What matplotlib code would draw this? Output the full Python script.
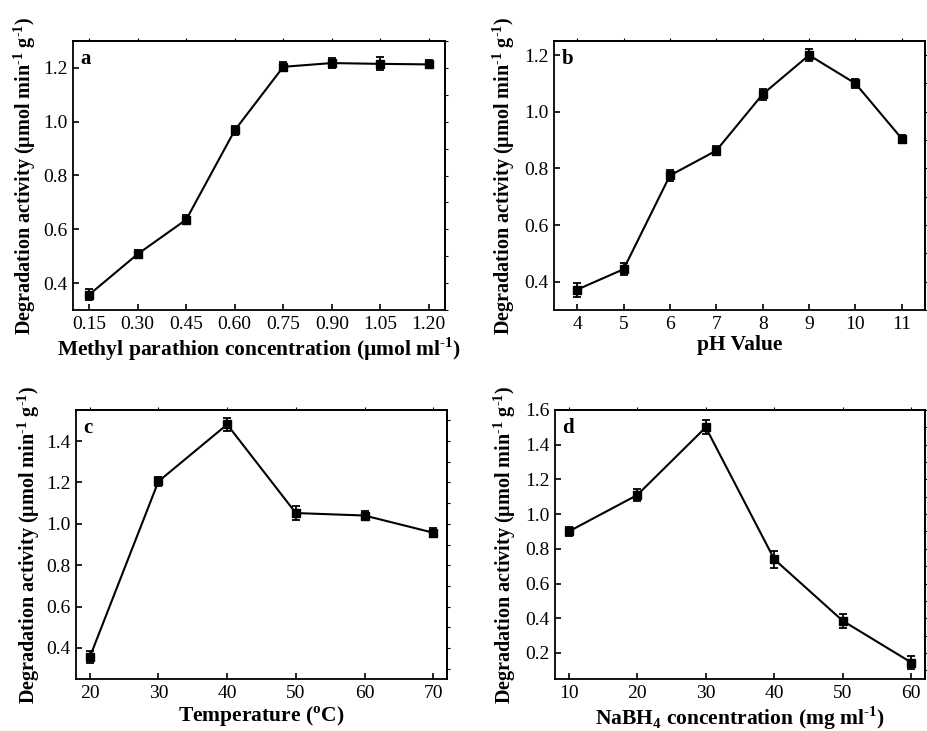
import matplotlib
matplotlib.use("Agg")
import matplotlib.pyplot as plt
import numpy as np

plt.rcParams['font.family'] = ['Liberation Serif', 'DejaVu Serif']
plt.rcParams['mathtext.fontset'] = 'custom'
plt.rcParams['mathtext.rm'] = 'Liberation Serif'
plt.rcParams['mathtext.bf'] = 'Liberation Serif:bold'

# Panel a: methyl parathion concentration
conc_a = [0.15, 0.30, 0.45, 0.60, 0.75, 0.90, 1.05, 1.20]
act_a = [0.357, 0.508, 0.636, 0.968, 1.204, 1.218, 1.215, 1.213]
err_a = [0.020, 0.015, 0.018, 0.016, 0.017, 0.020, 0.024, 0.015]
ticks_a = ['0.15', '0.30', '0.45', '0.60', '0.75', '0.90', '1.05', '1.20']

# Panel b: pH
ph_b = [4, 5, 6, 7, 8, 9, 10, 11]
act_b = [0.372, 0.444, 0.775, 0.863, 1.062, 1.200, 1.100, 0.905]
err_b = [0.025, 0.022, 0.018, 0.016, 0.020, 0.020, 0.016, 0.014]

# Panel c: temperature
temp_c = [20, 30, 40, 50, 60, 70]
act_c = [0.355, 1.205, 1.480, 1.052, 1.040, 0.957]
err_c = [0.030, 0.022, 0.030, 0.035, 0.022, 0.022]

# Panel d: NaBH4 concentration
nabh_d = [10, 20, 30, 40, 50, 60]
act_d = [0.900, 1.110, 1.500, 0.740, 0.385, 0.145]
err_d = [0.025, 0.035, 0.040, 0.050, 0.040, 0.040]

ylabel = 'Degradation activity (\u00b5mol min$^{\\mathbf{\u20101}}$ g$^{\\mathbf{\u20101}}$)'

fig = plt.figure(figsize=(9.27, 7.31), dpi=100)
W, H = 927, 731

def add_ax(l, r, t, b):
    return fig.add_axes([l / W, 1 - b / H, (r - l) / W, (b - t) / H])

axes = [add_ax(73, 445, 41, 310), add_ax(554, 925, 41, 310),
        add_ax(76, 447, 410, 679), add_ax(555, 925, 410, 679)]

specs = [
    (conc_a, act_a, err_a, (0.10, 1.25), (0.3, 1.3), conc_a, [0.4, 0.6, 0.8, 1.0, 1.2],
     'Methyl parathion concentration (\u00b5mol ml$^{\\mathbf{\u20101}}$)', 'a'),
    (ph_b, act_b, err_b, (3.5, 11.5), (0.3, 1.25), ph_b, [0.4, 0.6, 0.8, 1.0, 1.2],
     'pH Value', 'b'),
    (temp_c, act_c, err_c, (18, 72), (0.25, 1.55), temp_c, [0.4, 0.6, 0.8, 1.0, 1.2, 1.4],
     'Temperature ($^{\\mathbf{o}}$C)', 'c'),
    (nabh_d, act_d, err_d, (8, 62), (0.05, 1.6), nabh_d, [0.2, 0.4, 0.6, 0.8, 1.0, 1.2, 1.4, 1.6],
     'NaBH$_{\\mathbf{4}}$ concentration (mg ml$^{\\mathbf{\u20101}}$)', 'd'),
]

for i, (ax, (x, y, e, xl, yl, xt, yt, xlab, lab)) in enumerate(zip(axes, specs)):
    ax.errorbar(x, y, yerr=e, color='black', marker='s', markersize=6, lw=1.5,
                elinewidth=1.3, capsize=3, capthick=1.3)
    ax.set_xlim(*xl)
    ax.set_ylim(*yl)
    ax.set_xticks(xt)
    if i == 0:
        ax.set_xticklabels(ticks_a)
    ax.set_yticks(yt)
    ax.set_yticklabels(['%.1f' % v for v in yt])
    ax.tick_params(axis='both', direction='in', length=4, width=1.2, labelsize=14, pad=4)
    for s in ax.spines.values():
        s.set_linewidth(1.3)
    # right and top mirrored ticks
    sy = ax.secondary_yaxis('right')
    step = 0.1
    yt2 = np.arange(np.ceil(yl[0] / step) * step, yl[1] + 1e-9, step)
    sy.set_yticks(yt2)
    sy.set_yticklabels([])
    sy.tick_params(direction='out', length=2, width=0.8)
    sy.spines['right'].set_linewidth(1.3)
    sx = ax.secondary_xaxis('top')
    sx.set_xticks(xt)
    sx.set_xticklabels([])
    sx.tick_params(direction='out', length=2, width=0.8)
    sx.spines['top'].set_linewidth(1.3)

    ax.set_xlabel(xlab, fontsize=15.5, fontweight='bold', labelpad=2)
    ax.set_ylabel(ylabel, fontsize=14.5, fontweight='bold', labelpad=4)
    ax.text(0.02, 0.97, lab, transform=ax.transAxes, fontsize=15, fontweight='bold',
            va='top', ha='left')

axes[0].yaxis.set_label_coords(-35 / 372, 0.5)
axes[1].yaxis.set_label_coords(-37 / 371, 0.5)
axes[2].yaxis.set_label_coords(-34 / 371, 0.5)
axes[3].yaxis.set_label_coords(-37 / 370, 0.5)

fig.savefig('out.png', dpi=100)
